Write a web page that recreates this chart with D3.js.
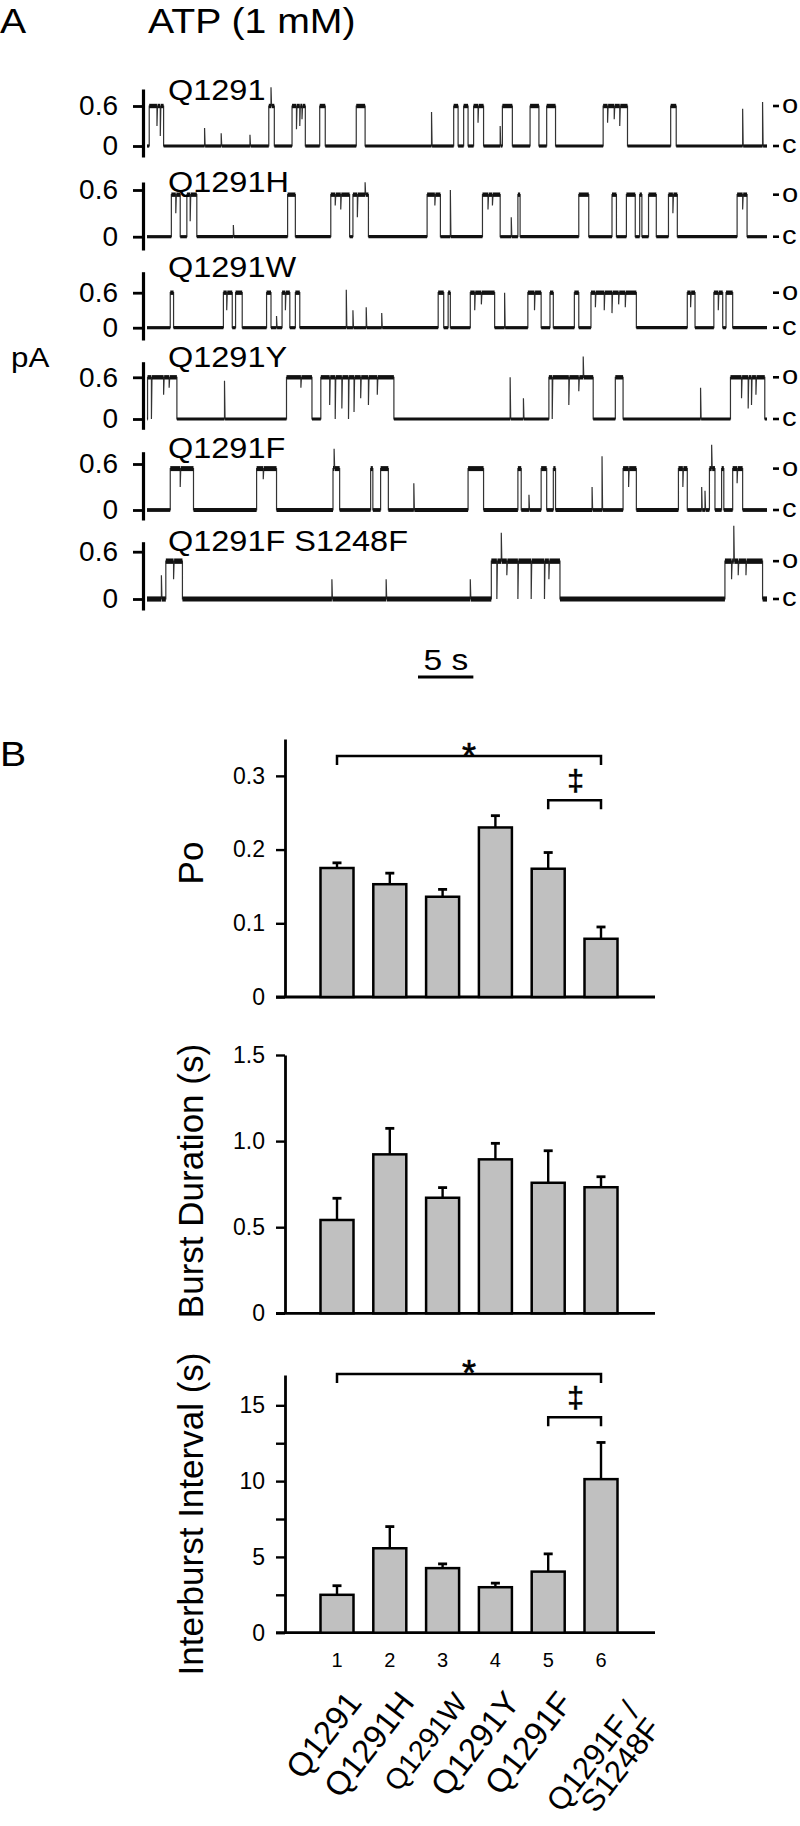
<!DOCTYPE html>
<html>
<head>
<meta charset="utf-8">
<script src="https://cdn.jsdelivr.net/npm/d3@7"></script>
<style>
body { margin: 0; background: #fff; }
svg { display: block; font-family: "Liberation Sans", Arial, sans-serif; }
</style>
</head>
<body>
<svg id="fig" width="800" height="1826"></svg>
<script>
// ---------- panel A: single channel records (times in s, levels in pA) ----------
var traceNames = ["Q1291", "Q1291H", "Q1291W", "Q1291Y", "Q1291F", "Q1291F S1248F"];
var openLevel = [0.6, 0.54, 0.6, 0.6, 0.54, 0.48];
var recordLength = 56;

// open bursts [start, end]
var burstsQ1291 = [[0.2, 1.5], [11.0, 11.5], [13.1, 14.3], [15.6, 16.1], [18.9, 19.7], [27.7, 28.1], [28.6, 29.0],
  [29.5, 30.4], [32.1, 33.0], [34.6, 35.4], [36.1, 36.9], [41.2, 43.4], [47.3, 47.8]];
var burstsQ1291H = [[2.2, 3.0], [3.6, 4.5], [12.7, 13.4], [16.6, 18.3], [18.6, 20.0], [25.3, 26.5], [30.3, 31.9],
  [33.5, 33.7], [39.0, 39.9], [42.0, 42.4], [43.3, 44.1], [44.5, 44.7], [45.3, 46.0], [47.1, 47.9], [53.3, 54.2]];
var burstsQ1291W = [[2.1, 2.4], [6.9, 7.7], [8.0, 8.6], [10.8, 11.2], [12.2, 12.9], [13.4, 13.8], [26.3, 26.8],
  [27.2, 27.4], [29.2, 31.4], [34.4, 35.6], [36.4, 36.7], [38.6, 39.0], [40.1, 44.2], [48.8, 49.5], [51.2, 52.0], [52.3, 52.9]];
var burstsQ1291Y = [[0.05, 2.7], [12.6, 14.9], [15.7, 22.3], [36.3, 40.3], [42.3, 43.0], [52.7, 55.8]];
var burstsQ1291F = [[2.1, 4.2], [9.9, 11.7], [16.8, 17.4], [20.2, 20.4], [21.1, 21.8], [29.0, 30.4], [33.5, 33.8],
  [35.6, 36.1], [36.7, 36.9], [43.0, 44.2], [48.0, 48.8], [50.8, 51.3], [51.9, 52.1], [52.9, 53.8]];
var burstsQ1291FS1248F = [[1.7, 3.2], [31.1, 37.3], [52.2, 55.6]];

// brief excursions [time, level reached] (spikes and flickers)
var flickQ1291 = [[0.9, 0.3], [1.2, 0.15], [5.2, 0.27], [6.7, 0.19], [9.3, 0.17], [11.2, 0.88], [13.5, 0.25], [13.8, 0.3],
  [14.0, 0.4], [25.7, 0.51], [29.9, 0.35], [31.9, 0.3], [41.6, 0.35], [42.2, 0.4], [42.7, 0.3], [53.8, 0.56], [55.6, 0.66]];
var flickQ1291H = [[2.6, 0.3], [3.9, 0.2], [7.8, 0.15], [17.0, 0.4], [17.5, 0.35], [19.0, 0.25], [19.7, 0.7], [26.0, 0.4],
  [27.4, 0.6], [30.8, 0.35], [31.2, 0.4], [32.9, 0.25], [47.5, 0.3], [53.8, 0.35]];
var flickQ1291W = [[7.2, 0.3], [11.7, 0.2], [12.5, 0.3], [18.0, 0.65], [18.6, 0.3], [19.8, 0.35], [21.2, 0.25], [29.6, 0.3],
  [30.2, 0.4], [32.3, 0.6], [35.0, 0.3], [40.5, 0.35], [41.3, 0.3], [42.0, 0.25], [42.6, 0.4], [43.2, 0.35], [49.1, 0.35], [51.6, 0.3]];
var flickQ1291Y = [[0.4, 0], [1.5, 0.35], [2.0, 0.45], [7.0, 0.55], [13.9, 0.45], [16.5, 0.2], [17.0, 0], [17.6, 0.15],
  [18.2, 0], [18.7, 0.1], [19.3, 0.3], [20.0, 0.2], [20.8, 0.35], [32.8, 0.6], [34.0, 0.3], [36.6, 0], [38.1, 0.2],
  [39.0, 0.4], [39.4, 0.9], [50.0, 0.45], [53.7, 0.3], [54.3, 0.15], [54.6, 0.2], [55.0, 0.35]];
var flickQ1291F = [[3.0, 0.3], [10.5, 0.4], [16.9, 0.8], [24.1, 0.35], [34.5, 0.2], [40.2, 0.3], [41.1, 0.7], [43.5, 0.3],
  [48.4, 0.3], [50.1, 0.3], [50.4, 0.25], [51.0, 0.85], [53.3, 0.35]];
var flickQ1291FS1248F = [[1.3, 0.3], [2.4, 0.25], [16.7, 0.25], [21.6, 0.25], [29.2, 0.25], [31.6, 0], [32.0, 0.84],
  [32.5, 0.3], [33.5, 0], [34.7, 0], [35.9, 0], [36.3, 0.25], [52.8, 0.25], [53.0, 0.93], [53.4, 0.3], [54.1, 0.3]];

var allBursts = [burstsQ1291, burstsQ1291H, burstsQ1291W, burstsQ1291Y, burstsQ1291F, burstsQ1291FS1248F];
var allFlicks = [flickQ1291, flickQ1291H, flickQ1291W, flickQ1291Y, flickQ1291F, flickQ1291FS1248F];

// ---------- panel B: summary data (mean, sem) ----------
var mutants = ["Q1291", "Q1291H", "Q1291W", "Q1291Y", "Q1291F", "Q1291F / S1248F"];
var poMean = [0.175, 0.153, 0.136, 0.230, 0.174, 0.079];
var poSem = [0.007, 0.015, 0.010, 0.016, 0.022, 0.016];
var burstMean = [0.542, 0.923, 0.671, 0.894, 0.758, 0.732];
var burstSem = [0.126, 0.151, 0.059, 0.093, 0.186, 0.061];
var ibiMean = [2.5, 5.57, 4.26, 3.0, 4.03, 10.13];
var ibiSem = [0.6, 1.43, 0.28, 0.27, 1.17, 2.42];

// ---------- layout ----------
var svg = d3.select("#fig");
var font = "Liberation Sans, Arial, sans-serif";
var sx = 1.12; // horizontal text stretch seen in the figure

// trace rows: pixel of 0 pA, 0.6 pA, axis top/bottom, name baseline
var rows = [
  { y0: 146, y6: 106, top: 89, bot: 157, nameY: 100 },
  { y0: 236.7, y6: 190, top: 182, bot: 250, nameY: 191.5 },
  { y0: 327.7, y6: 292.7, top: 271.7, bot: 340, nameY: 276.5 },
  { y0: 419, y6: 377.3, top: 361.7, bot: 429.3, nameY: 366.5 },
  { y0: 510, y6: 464, top: 451.7, bot: 520, nameY: 458 },
  { y0: 599, y6: 551.7, top: 541.7, bot: 610, nameY: 550.5 }
];
var closedBand = [3.2, 3.2, 3.2, 3, 3.8, 5.2];
var openBand = [4.4, 4.4, 4.4, 4.4, 5, 5.4];

var tScale = d3.scaleLinear().domain([0, recordLength]).range([147, 767]);

function stretchText(x, y, str, size, anchor) {
  return svg.append("text")
    .attr("transform", "translate(" + x + "," + y + ") scale(" + sx + ",1)")
    .attr("font-size", size)
    .attr("font-family", font)
    .attr("text-anchor", anchor || "start")
    .text(str);
}

stretchText(0, 33, "A", 35);
stretchText(148, 33, "ATP (1 mM)", 35);
stretchText(11, 367, "pA", 28);

var buildPoints = function (bursts, flicks, open) {
  var events = [];
  bursts.forEach(function (b) {
    events.push({ t: b[0], kind: "open" });
    events.push({ t: b[1], kind: "close" });
  });
  flicks.forEach(function (f) {
    events.push({ t: f[0], kind: "flick", v: f[1] });
  });
  events.sort(function (a, b) { return a.t - b.t; });
  var pts = [[0, 0]];
  var level = 0;
  events.forEach(function (e) {
    if (e.kind === "open") {
      pts.push([e.t, 0], [e.t, open]);
      level = open;
    } else if (e.kind === "close") {
      pts.push([e.t, open], [e.t, 0]);
      level = 0;
    } else {
      pts.push([e.t, level], [e.t, e.v], [e.t + 0.05, level]);
    }
  });
  pts.push([recordLength, 0]);
  return pts;
};

rows.forEach(function (r, i) {
  var y = d3.scaleLinear().domain([0, 0.6]).range([r.y0, r.y6]);
  var g = svg.append("g");

  // y axis with 0 and 0.6 ticks
  var axisScale = y.copy().domain([y.invert(r.bot), y.invert(r.top)]).range([r.bot, r.top]);
  var ax = g.append("g")
    .attr("transform", "translate(143,0)")
    .call(d3.axisLeft(axisScale).tickValues([0, 0.6]).tickSize(10).tickSizeOuter(0).tickPadding(15)
      .tickFormat(function (d) { return d === 0 ? "0" : "0.6"; }));
  ax.attr("font-family", font).attr("font-size", 28);
  ax.select(".domain").attr("stroke-width", 3.2);
  ax.selectAll(".tick line").attr("stroke-width", 2.8);
  ax.selectAll(".tick text").attr("fill", "#000");

  var pts = buildPoints(allBursts[i], allFlicks[i], openLevel[i]);
  var line = d3.line()
    .x(function (d) { return tScale(d[0]); })
    .y(function (d) { return y(d[1]); });

  g.append("path")
    .attr("d", line(pts))
    .attr("fill", "none")
    .attr("stroke", "#333")
    .attr("stroke-width", 1.2);

  // thicker bands on the flat (noisy) stretches
  var segs = [];
  for (var k = 1; k < pts.length; k++) {
    var a = pts[k - 1], b = pts[k];
    if (a[1] === b[1] && b[0] > a[0]) segs.push([a, b]);
  }
  g.selectAll("line.seg")
    .data(segs)
    .enter()
    .append("line")
    .attr("class", "seg")
    .attr("x1", function (s) { return tScale(s[0][0]); })
    .attr("x2", function (s) { return tScale(s[1][0]); })
    .attr("y1", function (s) { return y(s[0][1]); })
    .attr("y2", function (s) { return y(s[1][1]); })
    .attr("stroke", "#111")
    .attr("stroke-width", function (s) { return s[0][1] === 0 ? closedBand[i] : openBand[i]; });

  // name
  stretchText(168, r.nameY, traceNames[i], 29);

  // o / c markers
  [[openLevel[i], "o"], [0, "c"]].forEach(function (m) {
    g.append("line")
      .attr("x1", 773).attr("x2", 779)
      .attr("y1", y(m[0])).attr("y2", y(m[0]))
      .attr("stroke", "#000").attr("stroke-width", 2.6);
    stretchText(782, y(m[0]) + 7, m[1], 26);
  });
});

// scale bar 5 s
svg.append("line")
  .attr("x1", 418).attr("x2", 418 + tScale(5) - tScale(0))
  .attr("y1", 677).attr("y2", 677)
  .attr("stroke", "#000").attr("stroke-width", 3.2);
stretchText(446, 670, "5 s", 30, "middle");

// ---------- panel B ----------
stretchText(0, 766, "B", 35);

var xBand = d3.scaleBand()
  .domain(d3.range(mutants.length))
  .range([310.6, 627.4])
  .paddingInner(0.375)
  .paddingOuter(0.1875);

var drawBars = function (cfg) {
  var y = d3.scaleLinear().domain([0, cfg.max]).range([cfg.base, cfg.top]);
  var g = svg.append("g");

  var ax = g.append("g")
    .attr("transform", "translate(285,0)")
    .call(d3.axisLeft(y).tickValues(cfg.ticks).tickSize(9).tickSizeOuter(0).tickPadding(11).tickFormat(cfg.fmt));
  ax.attr("font-family", font).attr("font-size", 23);
  ax.select(".domain").attr("stroke-width", 2.8);
  ax.selectAll(".tick line").attr("stroke-width", 2.4);
  ax.selectAll(".tick text").attr("fill", "#000");

  g.append("line")
    .attr("x1", 276).attr("x2", 655)
    .attr("y1", y(0)).attr("y2", y(0))
    .attr("stroke", "#000").attr("stroke-width", 2.8);

  var cx = function (i) { return xBand(i) + xBand.bandwidth() / 2; };

  // error bars
  g.selectAll("line.err")
    .data(cfg.mean)
    .enter()
    .append("line")
    .attr("class", "err")
    .attr("x1", function (d, i) { return cx(i); })
    .attr("x2", function (d, i) { return cx(i); })
    .attr("y1", function (d) { return y(d); })
    .attr("y2", function (d, i) { return y(d + cfg.sem[i]); })
    .attr("stroke", "#000").attr("stroke-width", 2.4);
  g.selectAll("line.cap")
    .data(cfg.mean)
    .enter()
    .append("line")
    .attr("class", "cap")
    .attr("x1", function (d, i) { return cx(i) - 4.5; })
    .attr("x2", function (d, i) { return cx(i) + 4.5; })
    .attr("y1", function (d, i) { return y(d + cfg.sem[i]); })
    .attr("y2", function (d, i) { return y(d + cfg.sem[i]); })
    .attr("stroke", "#000").attr("stroke-width", 2.8);

  g.selectAll("rect")
    .data(cfg.mean)
    .enter()
    .append("rect")
    .attr("x", function (d, i) { return xBand(i); })
    .attr("width", xBand.bandwidth())
    .attr("y", function (d) { return y(d); })
    .attr("height", function (d) { return y(0) - y(d); })
    .attr("fill", "#c0c0c0")
    .attr("stroke", "#000")
    .attr("stroke-width", 2.5);

  // significance brackets
  (cfg.sig || []).forEach(function (s) {
    var x1 = cx(s.from), x2 = cx(s.to);
    var yl = y(s.at), yt = yl + 9;
    g.append("path")
      .attr("d", "M" + x1 + "," + yt + "V" + yl + "H" + x2 + "V" + yt)
      .attr("fill", "none").attr("stroke", "#000").attr("stroke-width", 2.5);
    g.append("text")
      .attr("x", (s.mark === "*") ? 469 : (x1 + x2) / 2 + 1)
      .attr("y", yl + s.dy)
      .attr("text-anchor", "middle")
      .attr("font-family", font)
      .attr("font-size", s.mark === "*" ? 36 : 30)
      .attr("fill", "#000")
      .attr("stroke", "#000")
      .attr("stroke-width", 0.6)
      .text(s.mark);
  });

  svg.append("text")
    .attr("transform", "translate(203," + cfg.labelY + ") rotate(-90)")
    .attr("text-anchor", "middle")
    .attr("font-family", font)
    .attr("font-size", 35)
    .text(cfg.label);
  return y;
};

drawBars({
  mean: poMean, sem: poSem, max: 0.35, base: 997, top: 739,
  ticks: [0, 0.1, 0.2, 0.3],
  fmt: function (d) { return d === 0 ? "0" : d3.format(".1f")(d); },
  label: "Po", labelY: 863,
  sig: [{ from: 0, to: 5, at: 0.327, mark: "*", dy: 13 }, { from: 4, to: 5, at: 0.267, mark: "\u2021", dy: -9 }]
});

drawBars({
  mean: burstMean, sem: burstSem, max: 1.5, base: 1313.3, top: 1055,
  ticks: [0, 0.5, 1.0, 1.5],
  fmt: function (d) { return d === 0 ? "0" : d3.format(".1f")(d); },
  label: "Burst Duration (s)", labelY: 1181
});

drawBars({
  mean: ibiMean, sem: ibiSem, max: 17, base: 1632.7, top: 1375,
  ticks: [0, 2.5, 5, 7.5, 10, 12.5, 15],
  fmt: function (d) { return d % 5 === 0 ? String(d) : ""; },
  label: "Interburst Interval (s)", labelY: 1514,
  sig: [{ from: 0, to: 5, at: 17.06, mark: "*", dy: 12 }, { from: 4, to: 5, at: 14.21, mark: "\u2021", dy: -9 }]
});

// category numbers and names
var cxAll = function (i) { return xBand(i) + xBand.bandwidth() / 2; };
svg.selectAll("text.num")
  .data(mutants)
  .enter()
  .append("text")
  .attr("class", "num")
  .attr("x", function (d, i) { return cxAll(i); })
  .attr("y", 1667)
  .attr("text-anchor", "middle")
  .attr("font-family", font)
  .attr("font-size", 20)
  .text(function (d, i) { return i + 1; });

var names = svg.selectAll("text.name")
  .data(mutants)
  .enter()
  .append("text")
  .attr("class", "name")
  .attr("transform", function (d, i) {
    var dx = (i === 5) ? 40 : 26;
    var dy = (i === 5) ? 9 : 0;
    return "translate(" + (cxAll(i) + dx) + "," + (1703 + dy) + ") rotate(-52)";
  })
  .attr("text-anchor", "end")
  .attr("font-family", font)
  .attr("font-size", function (d, i) { return i === 2 ? 29 : (i === 5 ? 31 : 33); });

names.each(function (d) {
  var parts = d.split(" / ");
  var t = d3.select(this);
  if (parts.length === 1) {
    t.text(d);
  } else {
    t.append("tspan").attr("x", 0).attr("dy", 0).text(parts[0] + " /");
    t.append("tspan").attr("x", 0).attr("dy", "0.88em").text(parts[1]);
  }
});
</script>
</body>
</html>
